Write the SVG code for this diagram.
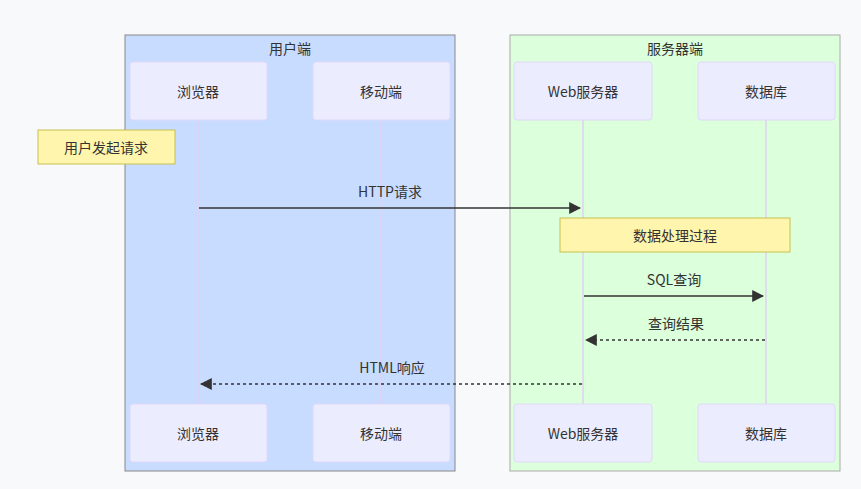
<svg xmlns="http://www.w3.org/2000/svg" width="861" height="489" viewBox="0 0 861 489">
<style>
text{font-family:"Noto Sans CJK SC","Liberation Sans",sans-serif;font-size:14px;fill:#333;text-anchor:middle;dominant-baseline:central}
.actor{fill:#ececff;stroke:#e0d8f8;stroke-width:1}
.life{stroke:#e0d0f0;stroke-width:1.5}
.note{fill:#fff5ad;stroke:#c8c050;stroke-width:1}
.msg{stroke:#333;stroke-width:1.5;fill:none}
</style>
<defs><marker id="ah" viewBox="0 0 10 10" refX="9" refY="5" markerWidth="8" markerHeight="8" orient="auto"><path d="M0,0L10,5L0,10z" fill="#333"/></marker></defs>
<rect width="861" height="489" fill="#f8f9fb"/>
<g id="g-user"><rect x="125" y="35" width="330" height="436" fill="#c8dcff" stroke="#888"/><text x="290" y="48">用户端</text></g>
<g id="g-server"><rect x="510" y="35" width="330" height="436" fill="#dcffdc" stroke="#aaa"/><text x="675" y="48">服务器端</text></g>
<g id="lifelines">
<line class="life" x1="198" y1="120" x2="198" y2="404"/><line class="life" x1="381" y1="120" x2="381" y2="404"/>
<line class="life" x1="583" y1="120" x2="583" y2="404"/><line class="life" x1="766" y1="120" x2="766" y2="404"/>
</g>
<g id="a-browser"><rect class="actor" x="130" y="62" width="137" height="58" rx="3"/><text x="198" y="91">浏览器</text><rect class="actor" x="130" y="404" width="137" height="58" rx="3"/><text x="198" y="433">浏览器</text></g>
<g id="a-mobile"><rect class="actor" x="313" y="62" width="137" height="58" rx="3"/><text x="381" y="91">移动端</text><rect class="actor" x="313" y="404" width="137" height="58" rx="3"/><text x="381" y="433">移动端</text></g>
<g id="a-web"><rect class="actor" x="514" y="62" width="138" height="58" rx="3"/><text x="583" y="91">Web服务器</text><rect class="actor" x="514" y="404" width="138" height="58" rx="3"/><text x="583" y="433">Web服务器</text></g>
<g id="a-db"><rect class="actor" x="698" y="62" width="137" height="58" rx="3"/><text x="766" y="91">数据库</text><rect class="actor" x="698" y="404" width="137" height="58" rx="3"/><text x="766" y="433">数据库</text></g>
<g id="n1"><rect class="note" x="38" y="130" width="137" height="34"/><text x="106" y="147">用户发起请求</text></g>
<g id="connectors">
<line class="msg" x1="199" y1="208" x2="580" y2="208" marker-end="url(#ah)"/><text x="390" y="191">HTTP请求</text>
<line class="msg" x1="584" y1="296" x2="763" y2="296" marker-end="url(#ah)"/><text x="674" y="279">SQL查询</text>
<line class="msg" x1="765" y1="340" x2="586" y2="340" stroke-dasharray="3,3" marker-end="url(#ah)"/><text x="676" y="323">查询结果</text>
<line class="msg" x1="582" y1="384" x2="201" y2="384" stroke-dasharray="3,3" marker-end="url(#ah)"/><text x="392" y="367">HTML响应</text>
</g>
<g id="n2"><rect class="note" x="560" y="218" width="230" height="34"/><text x="675" y="235">数据处理过程</text></g>
</svg>
